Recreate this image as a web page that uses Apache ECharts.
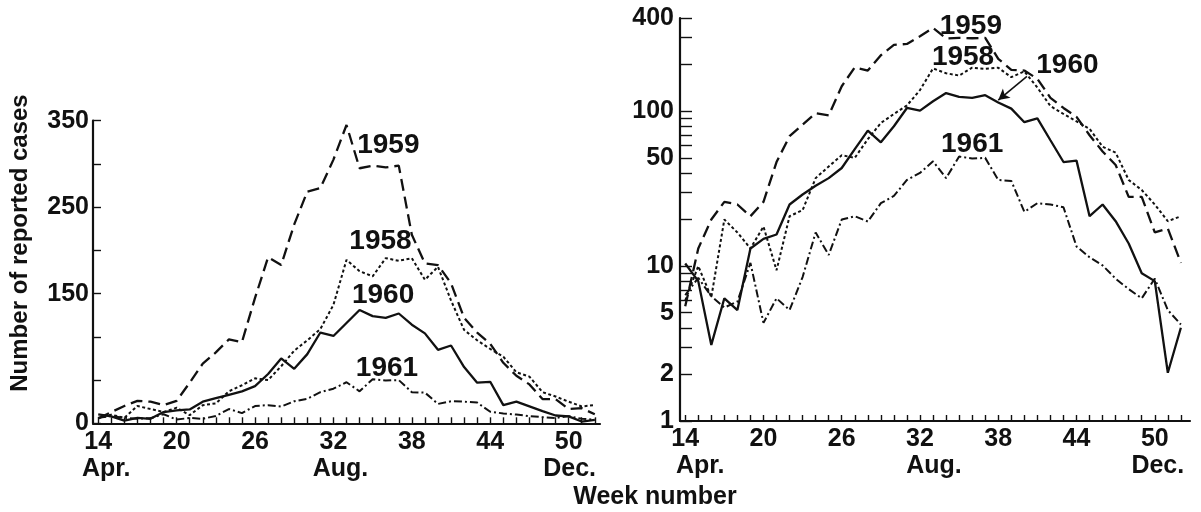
<!DOCTYPE html>
<html>
<head>
<meta charset="utf-8">
<script src="https://cdn.jsdelivr.net/npm/echarts@6/dist/echarts.min.js"></script>
<style>
html,body{margin:0;padding:0;background:#fff;}
#chart{width:1201px;height:512px;}
</style>
</head>
<body>
<div id="chart"></div>
<script>
// ---- data (weekly reported cases, weeks 14..52) ----
const weeks = [14,15,16,17,18,19,20,21,22,23,24,25,26,27,28,29,30,31,32,33,34,35,36,37,38,39,40,41,42,43,44,45,46,47,48,49,50,51,52];
const cases1958 = [6,10,6.3,20,16.5,13,18,9.4,21,23,37,44,52,50,66,84,96,109,137,189,176,170,191,188,191,166,181,142,108,96,86,77,59,54,36,31,25,19.5,21];
const cases1959 = [5.5,13,20,26,25,21,26,47,69,82,97,94,145,192,183,230,268,272,305,345,295,298,296,298,218,185,183,162,122,105,92,70,55,45,28,28,16.5,17.5,10.5];
const cases1960 = [10.4,8,3.1,6.2,5.2,13,15,16,25,29,33,37,43,57,75,63,80,105,101,116,131,124,122,127,114,104,85,90,65,47,48,21,25,19.5,14,9,8,2.05,4];
const cases1961 = [6.5,8.4,6.4,5.4,5.9,10.5,4.3,6.2,5.2,8.5,16.5,11.8,20,21,19.4,25.5,28.4,36,40,47.5,37,51,49.5,50,36,35.5,22.4,25.5,25,24,13.4,11.4,10.1,8.3,7.1,6.2,8.3,5.2,4.2];

const xLabelWeeks = [14,20,26,32,38,44,50];
const monthOf = {14:'Apr.', 32:'Aug.', 50:'Dec.'};
const linTicks = [0,50,100,150,200,250,300,350];
const linLabels = [0,150,250,350];
const logTicks = [1,2,3,4,5,6,7,8,9,10,20,30,40,50,60,70,80,90,100,200,300,400];
const logLabels = [1,2,5,10,50,100,400];

// annotation positions (data coords)
const leftNotes = [['1959',36.2,322],['1958',35.6,210],['1960',35.8,148],['1961',36.1,64]];
const rightNotes = [['1959',35.9,355],['1958',35.3,222],['1961',36.0,61],['1960',43.3,198]];
const arrow1960 = [[40.2,168],[38.0,118]];

const INK = '#111';
const NARROW = '"Liberation Sans Narrow", "Liberation Sans", sans-serif';
const SANS = '"Liberation Sans", Arial, sans-serif';
const WEIGHT = 'bold';

const styles = {
  '1958': {type:[3,2.5], width:2},
  '1959': {type:[12,6], width:2.3},
  '1960': {type:'solid', width:2.3},
  '1961': {type:[8,3,2,3], width:2}
};
const dataByYear = {'1958':cases1958,'1959':cases1959,'1960':cases1960,'1961':cases1961};

function pairs(arr){ return weeks.map((w,i)=>[w,arr[i]]); }

function xLabelFormatter(pads){
  return function(v){
    const m = monthOf[v];
    if (m) return '{n|' + v + '}\n{' + pads[v] + '|' + m + '}';
    return '{n|' + v + '}';
  };
}
function richFor(pads){
  const r = {n:{fontSize:25,fontFamily:NARROW,fontWeight:WEIGHT,color:INK,lineHeight:27}};
  Object.keys(pads).forEach(k=>{
    r[pads[k]] = {fontSize:25,fontFamily:NARROW,fontWeight:WEIGHT,color:INK,lineHeight:27,padding:[0,0,0,parseInt(pads[k].slice(1))]};
  });
  return r;
}
const leftPads = {14:'p16',32:'p14',50:'p2'};
const rightPads = {14:'p30',32:'p28',50:'p6'};

function xAxis(gi, max, pads){
  return {
    type:'value', gridIndex:gi, min:13.6, max:max,
    axisLine:{show:true,onZero:false,lineStyle:{color:INK,width:2.2}},
    axisTick:{show:true,inside:true,length:6,customValues:weeks,lineStyle:{color:INK,width:1.4}},
    axisLabel:{show:true,customValues:xLabelWeeks,margin:5,formatter:xLabelFormatter(pads),rich:richFor(pads),color:INK},
    splitLine:{show:false}
  };
}

function noteLabel(y){
  return {show:true,position:'inside',formatter:y,color:INK,fontSize:28,fontFamily:NARROW,fontWeight:WEIGHT};
}

const series = [];
['1959','1958','1960','1961'].forEach(y=>{
  const note = leftNotes.find(n=>n[0]===y);
  series.push({
    type:'line', xAxisIndex:0, yAxisIndex:0, data:pairs(dataByYear[y]), symbol:'none',
    lineStyle:Object.assign({color:INK}, styles[y]), silent:true,
    markPoint:{symbol:'circle',symbolSize:1,itemStyle:{color:'rgba(0,0,0,0)'},
      label:noteLabel(y), data:[{coord:[note[1],note[2]]}]}
  });
});
['1959','1958','1960','1961'].forEach(y=>{
  const note = rightNotes.find(n=>n[0]===y);
  const s = {
    type:'line', xAxisIndex:1, yAxisIndex:1, data:pairs(dataByYear[y]), symbol:'none',
    lineStyle:Object.assign({color:INK}, styles[y]), silent:true,
    markPoint:{symbol:'circle',symbolSize:1,itemStyle:{color:'rgba(0,0,0,0)'},
      label:noteLabel(y), data:[{coord:[note[1],note[2]]}]}
  };
  if (y==='1960'){
    s.markLine = {silent:true,symbol:['none','arrow'],symbolSize:[9,11],label:{show:false},
      lineStyle:{color:INK,type:'solid',width:1.6},
      data:[[{coord:arrow1960[0]},{coord:arrow1960[1]}]]};
  }
  series.push(s);
});

const option = {
  animation:false,
  backgroundColor:'#fff',
  grid:[
    {left:93, top:120.7, right:601, bottom:88.7},
    {left:680, top:18, right:11, bottom:91}
  ],
  xAxis:[ xAxis(0,52.4,leftPads), xAxis(1,52.7,rightPads) ],
  yAxis:[
    {type:'value',gridIndex:0,min:0,max:350,
     axisLine:{show:true,lineStyle:{color:INK,width:2.2}},
     axisTick:{show:true,inside:true,length:8,customValues:linTicks,lineStyle:{color:INK,width:1.4}},
     axisLabel:{show:true,customValues:linLabels,margin:4,color:INK,fontSize:25,fontFamily:NARROW,fontWeight:WEIGHT},
     splitLine:{show:false}},
    {type:'log',gridIndex:1,min:1,max:400,logBase:10,
     axisLine:{show:true,lineStyle:{color:INK,width:2.2}},
     axisTick:{show:true,inside:true,length:12,customValues:logTicks,lineStyle:{color:INK,width:1.4}},
     axisLabel:{show:true,customValues:logLabels,margin:6,color:INK,fontSize:25,fontFamily:NARROW,fontWeight:WEIGHT},
     minorTick:{show:false},
     splitLine:{show:false}}
  ],
  graphic:[
    {type:'text',x:655,y:497,style:{text:'Week number',fill:INK,fontSize:25,fontFamily:SANS,fontWeight:WEIGHT,align:'center',verticalAlign:'middle',textAlign:'center',textVerticalAlign:'middle'}},
    {type:'text',x:20,y:243,rotation:Math.PI/2,style:{text:'Number of reported cases',fill:INK,fontSize:24,fontFamily:SANS,fontWeight:WEIGHT,align:'center',verticalAlign:'middle',textAlign:'center',textVerticalAlign:'middle'}}
  ],
  series:series
};

const chart = echarts.init(document.getElementById('chart'), null, {renderer:'canvas'});
chart.setOption(option);
</script>
</body>
</html>
